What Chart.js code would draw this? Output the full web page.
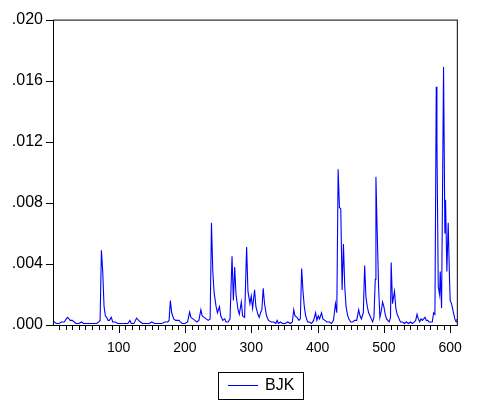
<!DOCTYPE html>
<html>
<head>
<meta charset="utf-8">
<script src="https://cdn.jsdelivr.net/npm/chart.js@4.4.1/dist/chart.umd.min.js"></script>
<style>
  html, body { margin: 0; padding: 0; background: #fff; }
  #chart { display: block; }
</style>
</head>
<body>
<canvas id="chart" width="477" height="406"></canvas>
<script>
// observation numbers and BJK values at each turning point of the series
const obs = [
  1, 3, 6, 10, 14, 18, 21, 23, 25, 27, 30, 33, 36, 40, 44, 47, 52, 57, 62, 67,
  70, 72, 74, 76, 78, 80, 82, 84, 86, 89, 91, 95, 99, 104, 110, 114, 117, 119, 123, 127,
  130, 133, 136, 141, 146, 150, 154, 160, 165, 170, 174, 176, 178, 180, 183, 186, 189, 191, 193, 196,
  200, 204, 207, 209, 212, 215, 218, 221, 224, 226, 229, 232, 235, 238, 240, 242, 244, 247, 249, 252,
  254, 257, 260, 262, 265, 268, 271, 273, 275, 277, 280, 282, 285, 287, 290, 293, 295, 298, 300, 302,
  305, 307, 310, 312, 314, 316, 318, 320, 323, 326, 330, 334, 337, 339, 341, 344, 347, 351, 355, 359,
  362, 364, 366, 369, 372, 374, 376, 378, 380, 382, 385, 388, 391, 394, 397, 399, 401, 403, 406, 408,
  411, 414, 418, 421, 424, 427, 429, 431, 433, 435, 437, 439, 441, 443, 445, 447, 450, 453, 456, 459,
  462, 464, 466, 469, 471, 473, 475, 477, 479, 481, 483, 485, 487, 488, 490, 492, 494, 496, 498, 500,
  502, 504, 506, 508, 510, 511, 513, 516, 518, 520, 522, 525, 528, 531, 534, 537, 540, 543, 546, 548,
  550, 552, 554, 556, 558, 560, 562, 564, 566, 568, 571, 573, 575, 577, 579, 580, 582, 584, 585, 587,
  590, 592, 593, 595, 597, 599, 600, 602, 603, 605, 607, 609, 610
];
const bjk = [
  0.0003, 0.0002, 0.0001, 0.0001, 0.0002, 0.0002, 0.0004, 0.0005, 0.0004, 0.0003, 0.0003, 0.0002, 0.0001, 0.0001, 0.0002, 0.0001, 0.0001, 0.0001, 0.0001, 0.0001,
  0.0002, 0.0003, 0.0049, 0.0035, 0.0012, 0.0006, 0.0005, 0.0003, 0.0003, 0.0005, 0.0002, 0.0002, 0.0001, 0.0001, 0.0001, 0.0001, 0.0003, 0.0001, 0.0001, 0.00045,
  0.0003, 0.0002, 0.0001, 0.0001, 0.0001, 0.0002, 0.0001, 0.0001, 0.0001, 0.0002, 0.0002, 0.0003, 0.0016, 0.0008, 0.0004, 0.0003, 0.0003, 0.0003, 0.0002, 0.0001,
  0.0001, 0.0002, 0.00085, 0.0005, 0.0004, 0.0003, 0.0002, 0.0003, 0.0010, 0.0006, 0.0005, 0.0004, 0.0003, 0.0004, 0.0067, 0.0035, 0.0021, 0.0012, 0.0008, 0.0012,
  0.0006, 0.0003, 0.0004, 0.0002, 0.0002, 0.0004, 0.0045, 0.0016, 0.0038, 0.0020, 0.0010, 0.0007, 0.0015, 0.0006, 0.0005, 0.0051, 0.0022, 0.0014, 0.0019, 0.0011,
  0.0023, 0.0012, 0.0007, 0.0005, 0.0008, 0.0010, 0.0024, 0.0014, 0.0006, 0.0003, 0.0002, 0.0002, 0.0001, 0.0003, 0.0001, 0.0002, 0.0001, 0.0001, 0.0002, 0.0001,
  0.0002, 0.0010, 0.0006, 0.0005, 0.0003, 0.0004, 0.0037, 0.0022, 0.0012, 0.0006, 0.0002, 0.0002, 0.0001, 0.0003, 0.0008, 0.0003, 0.0006, 0.0004, 0.0008, 0.0004,
  0.0003, 0.0002, 0.0002, 0.0001, 0.0003, 0.0014, 0.0008, 0.0102, 0.0077, 0.0076, 0.0023, 0.0053, 0.0025, 0.0012, 0.0007, 0.0004, 0.0002, 0.0002, 0.0003, 0.0003,
  0.0010, 0.0006, 0.0004, 0.0008, 0.0039, 0.0018, 0.0012, 0.0008, 0.0006, 0.0004, 0.0002, 0.0005, 0.0030, 0.0097, 0.0060, 0.0025, 0.0005, 0.0009, 0.0015, 0.0012,
  0.0007, 0.0004, 0.0003, 0.0002, 0.0005, 0.0041, 0.0014, 0.0022, 0.0011, 0.0007, 0.0005, 0.0002, 0.0002, 0.0001, 0.0002, 0.0001, 0.0002, 0.0001, 0.0002, 0.0003,
  0.0007, 0.0004, 0.0002, 0.0004, 0.0003, 0.0004, 0.0005, 0.0003, 0.0003, 0.0002, 0.0002, 0.0002, 0.0008, 0.0007, 0.0156, 0.0120, 0.0025, 0.0020, 0.0035, 0.0011,
  0.0169, 0.0060, 0.0082, 0.0035, 0.0067, 0.0030, 0.0016, 0.0014, 0.0012, 0.0008, 0.0004, 0.0002, 0.0004
];
const seriesName = 'BJK';
const xLabels = [100, 200, 300, 400, 500, 600];
const yTicks = [0, 0.004, 0.008, 0.012, 0.016, 0.020];

const FAMILY = '"Liberation Sans", Arial, sans-serif';
const X_FONT = { family: FAMILY, size: 14 };
const Y_FONT = { family: FAMILY, size: 16 };

// frame, axis tick marks and the boxed legend, EViews style
const framePlugin = {
  id: 'frame',
  afterDraw(chart) {
    const { ctx, chartArea: a, scales } = chart;
    ctx.save();
    ctx.strokeStyle = '#000';
    ctx.lineWidth = 1;
    ctx.strokeRect(a.left + 0.5, a.top + 0.5, a.right - a.left, a.bottom - a.top);

    ctx.beginPath();
    for (let v = 10; v < scales.x.max; v += 10) {
      const px = Math.round(scales.x.getPixelForValue(v)) + 0.5;
      const len = v % 100 === 0 ? 8 : 5;
      ctx.moveTo(px, a.bottom);
      ctx.lineTo(px, a.bottom + len);
    }
    for (const v of yTicks) {
      const py = Math.round(scales.y.getPixelForValue(v)) + 0.5;
      ctx.moveTo(a.left - 7, py);
      ctx.lineTo(a.left, py);
    }
    ctx.stroke();

    // legend
    const ds = chart.data.datasets[0];
    const bx = 218, by = 372, bw = 85, bh = 27;
    ctx.strokeRect(bx + 0.5, by + 0.5, bw, bh);
    ctx.strokeStyle = ds.borderColor;
    ctx.beginPath();
    ctx.moveTo(bx + 10, by + 13.5);
    ctx.lineTo(bx + 40, by + 13.5);
    ctx.stroke();
    ctx.fillStyle = '#000';
    ctx.font = `16px ${FAMILY}`;
    ctx.textBaseline = 'middle';
    ctx.fillText(ds.label, bx + 47, by + 14);
    ctx.restore();
  },
};

new Chart(document.getElementById('chart'), {
  type: 'line',
  data: {
    datasets: [{
      label: seriesName,
      data: obs.map((x, i) => ({ x, y: bjk[i] })),
      borderColor: '#0000ff',
      borderWidth: 1.1,
      pointRadius: 0,
      tension: 0,
      fill: false,
    }],
  },
  options: {
    responsive: false,
    animation: false,
    parsing: false,
    layout: { padding: { left: 0, top: 16, right: 8, bottom: 41 } },
    plugins: { legend: { display: false }, tooltip: { enabled: false } },
    scales: {
      x: {
        type: 'linear',
        min: 1,
        max: 610,
        afterBuildTicks: (s) => { s.ticks = xLabels.map((value) => ({ value })); },
        afterFit: (s) => { s.height = 40; },
        ticks: { font: X_FONT, color: '#000', padding: 15, maxRotation: 0, autoSkip: false },
        grid: { display: false, drawTicks: false },
        border: { display: false },
      },
      y: {
        min: 0,
        max: 0.02,
        afterBuildTicks: (s) => { s.ticks = yTicks.map((value) => ({ value })); },
        afterFit: (s) => { s.width = 53; },
        ticks: {
          font: Y_FONT,
          color: '#000',
          padding: 10,
          callback: (v) => v.toFixed(3).replace(/^0/, ''),
        },
        grid: { display: false, drawTicks: false },
        border: { display: false },
      },
    },
  },
  plugins: [framePlugin],
});
</script>
</body>
</html>
